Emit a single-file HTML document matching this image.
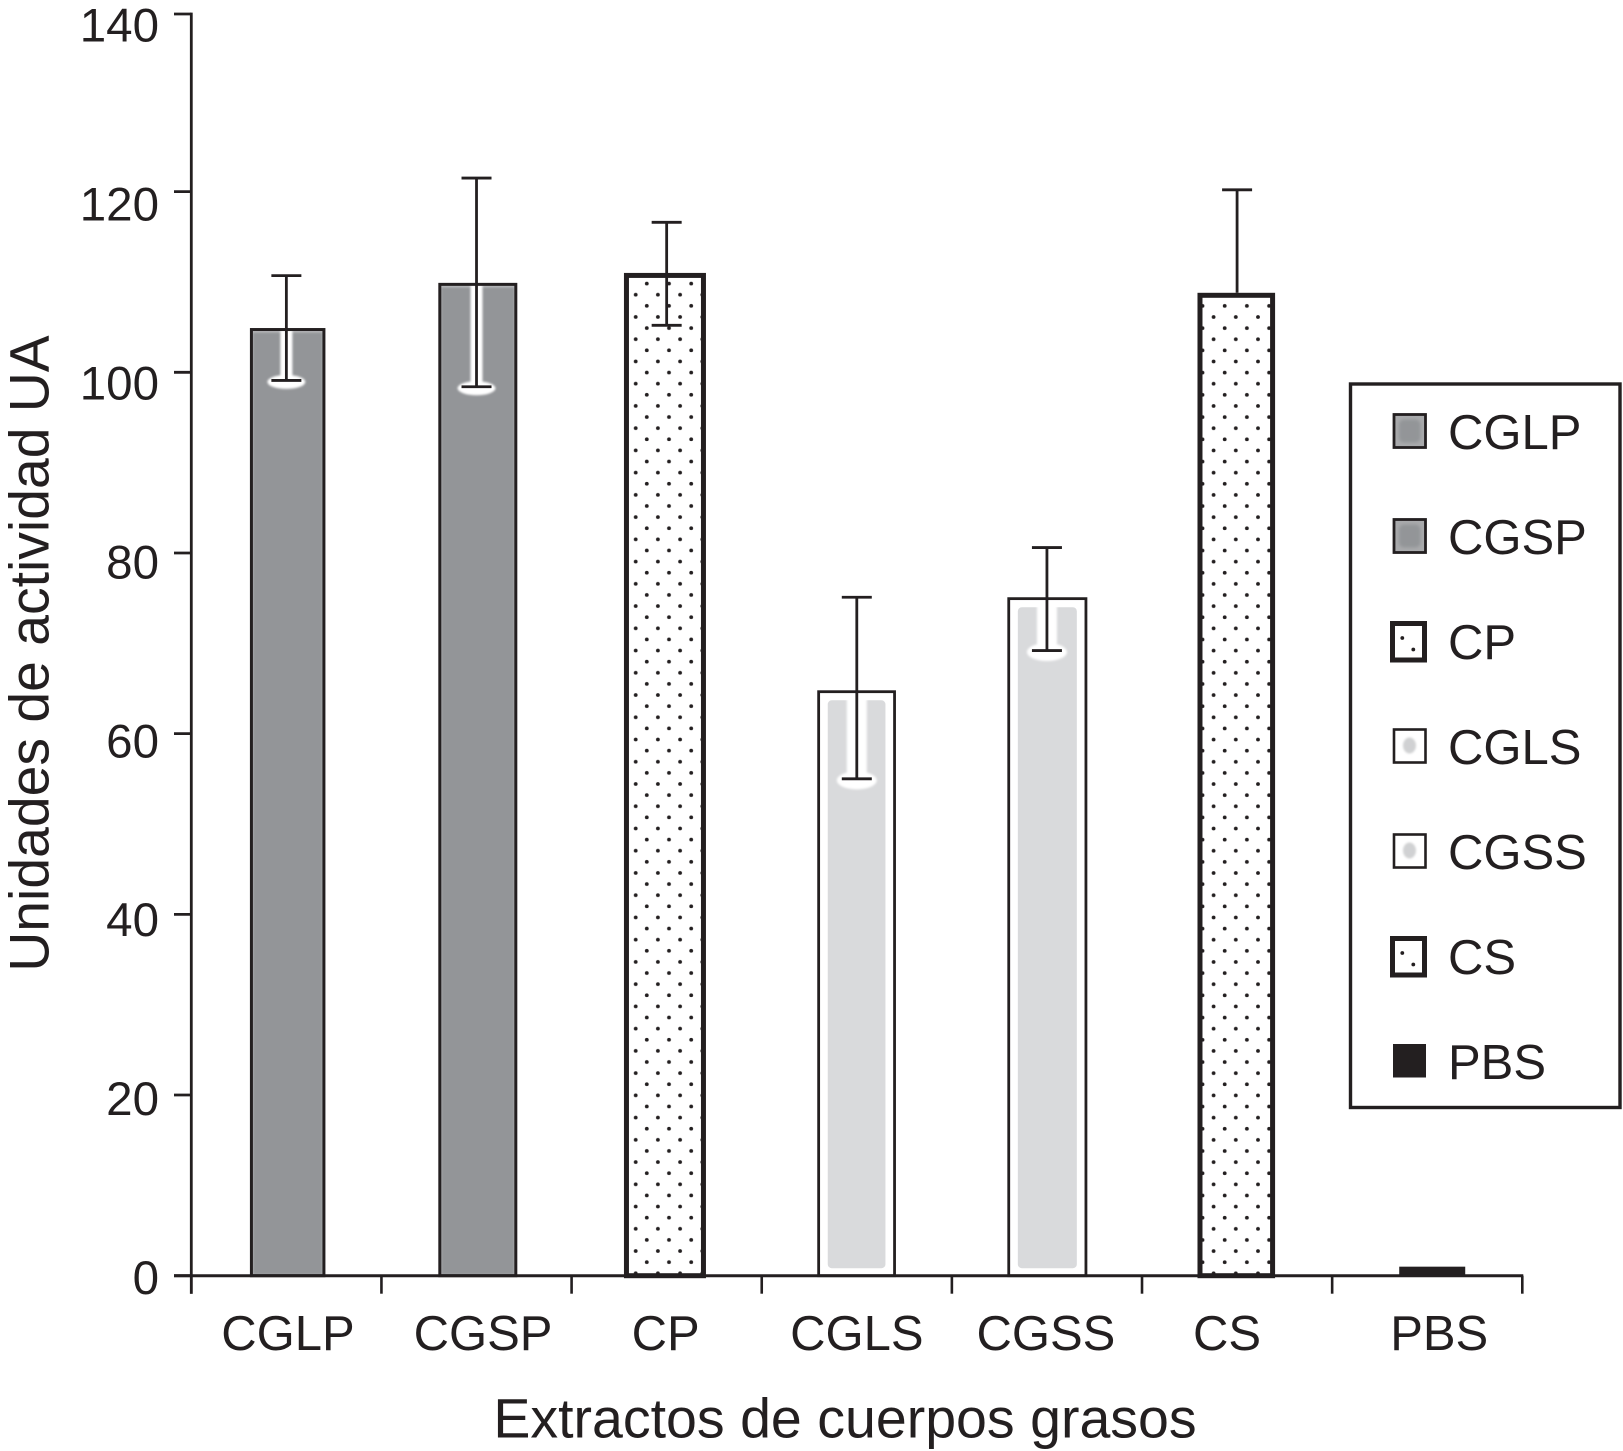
<!DOCTYPE html>
<html lang="es">
<head>
<meta charset="utf-8">
<title>Unidades de actividad UA</title>
<style>
html,body{margin:0;padding:0;background:#fff;width:1623px;height:1451px;overflow:hidden}
svg{display:block}
text{font-family:"Liberation Sans",Arial,sans-serif;fill:#231f20}
</style>
</head>
<body>
<svg id="chart" xmlns="http://www.w3.org/2000/svg" width="1623" height="1451" viewBox="0 0 1623 1451">
  <defs>
    <filter id="soft" x="-30%" y="-30%" width="160%" height="160%"><feGaussianBlur stdDeviation="1"/></filter>
    <filter id="softer" x="-40%" y="-40%" width="180%" height="180%"><feGaussianBlur stdDeviation="1.6"/></filter>
    <pattern id="dots-cp" patternUnits="userSpaceOnUse" x="635.7" y="294.7" width="22.2" height="22.24">
      <circle cx="0" cy="0" r="1.9" fill="#231f20"/><circle cx="22.2" cy="0" r="1.9" fill="#231f20"/>
      <circle cx="0" cy="22.24" r="1.9" fill="#231f20"/><circle cx="22.2" cy="22.24" r="1.9" fill="#231f20"/>
      <circle cx="11.1" cy="11.12" r="1.9" fill="#231f20"/>
    </pattern>
    <pattern id="dots-cs" patternUnits="userSpaceOnUse" x="1213.6" y="317" width="22.2" height="22.24">
      <circle cx="0" cy="0" r="1.9" fill="#231f20"/><circle cx="22.2" cy="0" r="1.9" fill="#231f20"/>
      <circle cx="0" cy="22.24" r="1.9" fill="#231f20"/><circle cx="22.2" cy="22.24" r="1.9" fill="#231f20"/>
      <circle cx="11.1" cy="11.12" r="1.9" fill="#231f20"/>
    </pattern>
  </defs>
  <text transform="translate(48.5 653.5) rotate(-90)" text-anchor="middle" font-size="55.3">Unidades de actividad UA</text>
  <text x="845" y="1437.5" text-anchor="middle" font-size="55.5">Extractos de cuerpos grasos</text>
</svg>
<script>
const categories = ['CGLP', 'CGSP', 'CP', 'CGLS', 'CGSS', 'CS', 'PBS'];
const means = [104.9, 109.9, 111, 64.8, 75.1, 108.8, 1];
const errorUpper = [110.7, 121.5, 116.6, 75.1, 80.6, 120.2, null];
const errorLower = [99.1, 98.4, 105.2, 55, 69.2, null, null];
const yTicks = [0, 20, 40, 60, 80, 100, 120, 140];

/* presentation only: how each category is drawn */
const seriesStyle = {
  CGLP: {kind: 'dark',  width: 75.5, stroke: 3,   nudge: 1.3,  labelNudge: 1.6},
  CGSP: {kind: 'dark',  width: 79,   stroke: 3,   nudge: 1.3,  labelNudge: 6.5},
  CP:   {kind: 'dots',  width: 82,   stroke: 5,   nudge: -1.7, labelNudge: -1, pattern: 'dots-cp'},
  CGLS: {kind: 'light', width: 78.7, stroke: 2.8, nudge: -0.2, labelNudge: 0},
  CGSS: {kind: 'light', width: 80,   stroke: 2.8, nudge: 0.4,  labelNudge: -1},
  CS:   {kind: 'dots',  width: 77.6, stroke: 5,   nudge: -0.8, labelNudge: -10, pattern: 'dots-cs'},
  PBS:  {kind: 'solid', width: 66,   stroke: 0,   nudge: 5,    labelNudge: 12}
};

const INK = '#231f20';
const plotLeft = 191.3, plotRight = 1522.3, zeroY = 1275.7, topY = 14, pxPerUnit = 9.034;
const svg = document.getElementById('chart');

function yScale(v) { return Math.max(zeroY - v * pxPerUnit, topY); }
function yLabelBaseline(v) { return 1294 - v * 8.945; }
function bandEdge(i) { return plotLeft + (plotRight - plotLeft) * i / categories.length; }
function bandCenter(i) { return bandEdge(i + 0.5); }

function make(tag, attrs, parent) {
  const node = document.createElementNS('http://www.w3.org/2000/svg', tag);
  for (const k in attrs) node.setAttribute(k, attrs[k]);
  (parent || svg).appendChild(node);
  return node;
}

/* bars */
categories.forEach(function (cat, i) {
  const st = seriesStyle[cat];
  const cx = bandCenter(i) + st.nudge;
  const top = yScale(means[i]);
  const left = cx - st.width / 2;
  const name = cat.toLowerCase();
  const g = make('g', {});
  
  

  const s = st.stroke / 2;
  if (st.kind === 'dark') {
    make('rect', {x: left + s, y: top + s, width: st.width - st.stroke, height: zeroY - top - s, fill: '#b9babc'}, g);
    make('rect', {x: left + s + 1.5, y: top + s + 3, width: st.width - st.stroke - 3, height: zeroY - top - s - 4, fill: '#939598', filter: 'url(#soft)'}, g);
  } else if (st.kind === 'light') {
    make('rect', {x: left + s, y: top + s, width: st.width - st.stroke, height: zeroY - top - s, fill: '#fff'}, g);
    make('rect', {x: left + 10.5, y: top + 10, width: st.width - 21, height: zeroY - top - 17.5, rx: 4, fill: '#d9dadc'}, g);
  } else if (st.kind === 'dots') {
    make('rect', {x: left + s, y: top + s, width: st.width - st.stroke, height: zeroY - top - s, fill: '#fff'}, g);
    make('rect', {x: left + s, y: top + s, width: st.width - st.stroke, height: zeroY - top - s, fill: 'url(#' + st.pattern + ')'}, g);
  } else {
    make('rect', {x: left, y: top, width: st.width, height: zeroY - top, fill: INK}, g);
  }

  /* white halo left around the error bar inside the filled bars */
  if (errorLower[i] !== null && (st.kind === 'dark' || st.kind === 'light')) {
    const ex = bandCenter(i);
    const eb = yScale(errorLower[i]);
    const slot = st.kind === 'dark' ? 12 : 20;
    const rx = st.kind === 'dark' ? 19 : 20;
    const ry = st.kind === 'dark' ? 7 : 9;
    const halo = make('g', {fill: '#fff', filter: 'url(#soft)'}, g);
    make('rect', {x: ex - slot / 2, y: top + s, width: slot, height: eb - top - s, fill: '#fff'}, halo);
    make('ellipse', {cx: ex, cy: eb + 1.5, rx: rx, ry: ry, fill: '#fff'}, halo);
  }

  if (st.stroke > 0) {
    make('rect', {x: left + s, y: top + s, width: st.width - st.stroke, height: zeroY - top - s, fill: 'none', stroke: INK, 'stroke-width': st.stroke}, g);
  }
});

/* axes */
const yAxis = make('line', {x1: plotLeft, y1: topY - 1.4, x2: plotLeft, y2: 1293.7, stroke: INK, 'stroke-width': 2.8});



const xAxis = make('line', {x1: 174, y1: zeroY, x2: plotRight + 1, y2: zeroY, stroke: INK, 'stroke-width': 3});



yTicks.forEach(function (v) {
  const y = yScale(v);
  const tick = make('line', {x1: 174, y1: y, x2: plotLeft, y2: y, stroke: INK, 'stroke-width': 2.8});
  
  
  const label = make('text', {x: 159, y: yLabelBaseline(v), 'text-anchor': 'end', 'font-size': 47.5});
  label.textContent = String(v);
  
  
});

for (let i = 0; i <= categories.length; i++) {
  const x = bandEdge(i);
  const tick = make('line', {x1: x, y1: zeroY, x2: x, y2: 1293.7, stroke: INK, 'stroke-width': 2.6});
  
  
}

categories.forEach(function (cat, i) {
  const label = make('text', {x: bandCenter(i) + seriesStyle[cat].labelNudge, y: 1350, 'text-anchor': 'middle', 'font-size': 49});
  label.textContent = cat;
  
  
});

/* error bars */
categories.forEach(function (cat, i) {
  if (errorUpper[i] === null) return;
  const x = bandCenter(i);
  const hi = yScale(errorUpper[i]);
  const lo = errorLower[i] === null ? yScale(means[i]) : yScale(errorLower[i]);
  const g = make('g', {stroke: INK, 'stroke-width': 2.8, fill: 'none'});
  
  
  make('line', {x1: x, y1: hi, x2: x, y2: lo}, g);
  make('line', {x1: x - 15, y1: hi, x2: x + 15, y2: hi}, g);
  if (errorLower[i] !== null) make('line', {x1: x - 15, y1: lo, x2: x + 15, y2: lo}, g);
});

/* legend */
const legend = make('g', {});


make('rect', {x: 1350.5, y: 384, width: 269.5, height: 723.5, fill: '#fff', stroke: INK, 'stroke-width': 3.4}, legend);

categories.forEach(function (cat, i) {
  const st = seriesStyle[cat];
  const cy = 431 + 105 * i;
  const entry = make('g', {}, legend);
  
  

  if (st.kind === 'dark') {
    make('rect', {x: 1394, y: cy - 16.5, width: 31.5, height: 33, fill: '#a9aaac', stroke: INK, 'stroke-width': 2.8}, entry);
    make('rect', {x: 1399, y: cy - 11.5, width: 21.5, height: 23, rx: 5, fill: '#939598', filter: 'url(#softer)'}, entry);
  } else if (st.kind === 'light') {
    make('rect', {x: 1394, y: cy - 16.5, width: 31.5, height: 33, fill: '#fff', stroke: INK, 'stroke-width': 2.6}, entry);
    make('ellipse', {cx: 1409.5, cy: cy - 0.5, rx: 6.5, ry: 8, fill: '#d0d1d3', filter: 'url(#soft)'}, entry);
  } else if (st.kind === 'dots') {
    make('rect', {x: 1392.5, y: cy - 17.5, width: 32, height: 36.5, fill: '#fff', stroke: INK, 'stroke-width': 5}, entry);
    make('circle', {cx: 1402.3, cy: cy - 3, r: 1.9, fill: INK}, entry);
    make('circle', {cx: 1413.3, cy: cy + 8.5, r: 1.9, fill: INK}, entry);
  } else {
    make('rect', {x: 1393, y: cy - 17, width: 33, height: 33.5, fill: INK}, entry);
  }

  const label = make('text', {x: 1448, y: cy + 18, 'font-size': 49}, entry);
  label.textContent = cat;
  
  
});
</script>
</body>
</html>
